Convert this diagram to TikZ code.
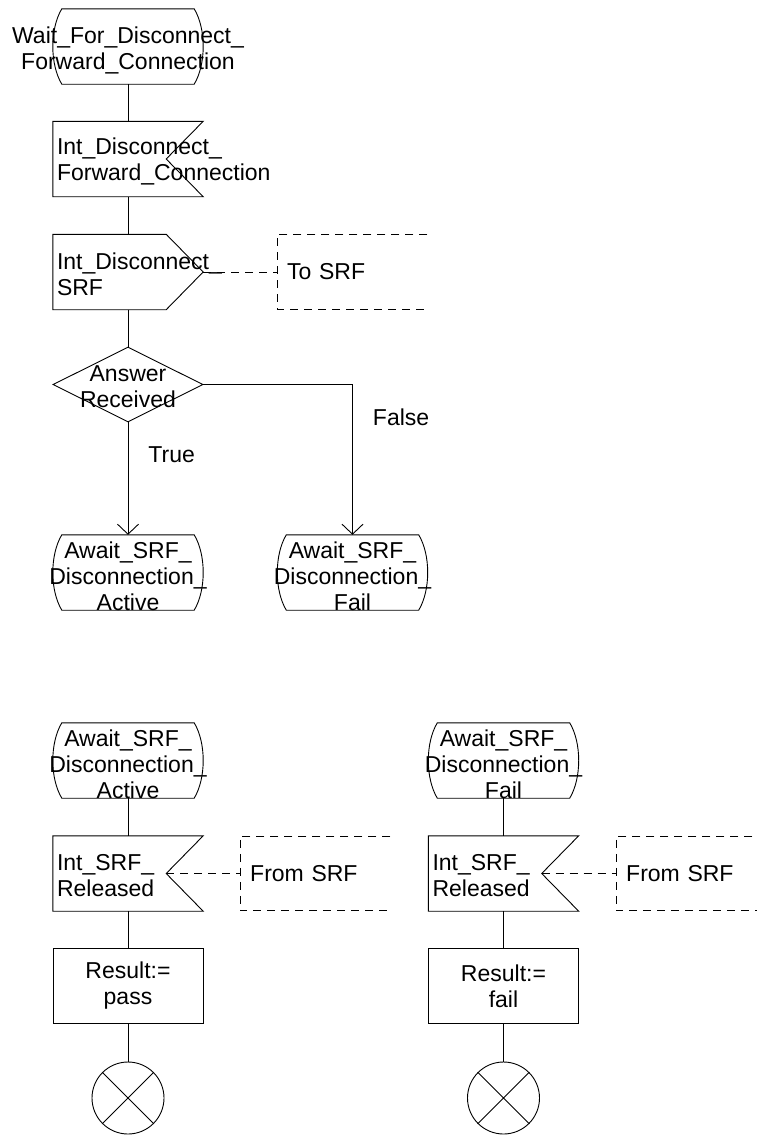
\documentclass[tikz,border=0pt]{standalone}
\usepackage{fontspec}
\setmainfont{Liberation Sans}
\usetikzlibrary{positioning, calc, arrows.meta, shapes.geometric}
\tikzset{
    sdltext/.style={font=\fontsize{23pt}{26pt}\selectfont},
    flow/.style={line width=0.9pt},
    sdlbox/.style={rectangle, minimum width=150pt, minimum height=75pt, inner sep=0pt},
    sdlshape/.style={sdlbox, draw, flow},
    statenode/.style={sdlbox, label={[sdltext, align=center, yshift=-4pt]center:#1},
        append after command={\pgfextra{\draw[flow] ($(\tikzlastnode.north west)+(9,0)$) -- ($(\tikzlastnode.north east)+(-9,0)$)
            .. controls +(12,20) and +(12,-20) .. ($(\tikzlastnode.south east)+(-9,0)$) -- ($(\tikzlastnode.south west)+(9,0)$)
            .. controls +(-12,-20) and +(-12,20) .. ($(\tikzlastnode.north west)+(9,0)$) -- cycle;}}},
    decisionnode/.style={sdlshape, diamond,
        label={[sdltext, align=center, yshift=-2pt]center:#1}},
    signaltext/.style={label={[sdltext, align=left, inner sep=0pt, anchor=west, xshift=4pt, yshift=-2pt]left:#1}},
    inputnode/.style={sdlbox, signaltext={#1},
        append after command={\pgfextra{\draw[flow] (\tikzlastnode.north west) -- (\tikzlastnode.north east)
            -- ($(\tikzlastnode.east)+(-37,0)$) -- (\tikzlastnode.south east) -- (\tikzlastnode.south west) -- cycle;}}},
    outputnode/.style={sdlbox, signaltext={#1},
        append after command={\pgfextra{\draw[flow] (\tikzlastnode.north west) -- ($(\tikzlastnode.north east)+(-37,0)$)
            -- (\tikzlastnode.east) -- ($(\tikzlastnode.south east)+(-37,0)$) -- (\tikzlastnode.south west) -- cycle;}}},
    tasknode/.style={sdlshape, sdltext, align=center},
    stopnode/.style={draw, flow, circle, minimum size=72pt, inner sep=0pt},
    notenode/.style={sdltext, anchor=west, minimum height=74pt, text width=130pt, inner xsep=10pt, inner ysep=0pt, align=left},
    flowarrow/.style={flow, -{Straight Barb[length=10pt, width=21pt]}},
    notelink/.style={line width=0.9pt, dash pattern=on 8pt off 6pt},
    branchlabel/.style={sdltext, inner sep=0pt},
}

\begin{document}
\begin{tikzpicture}[x=1pt, y=-1pt]
    \useasboundingbox (0,0) rectangle (756,1135);

    % Upper chart: disconnect forward connection
    \node[statenode={Wait\_For\_Disconnect\_\\Forward\_Connection}] (wait) at (128,46.5) {};
    \node[inputnode={Int\_Disconnect\_\\Forward\_Connection}] (idfc) at (128,159) {};
    \node[outputnode={Int\_Disconnect\_\\SRF}] (idsrf) at (128,272) {};
    \node[notenode] (tosrf) at (277,272) {To SRF};
    \node[decisionnode={Answer\\Received}] (answer) at (128,384.5) {};
    \node[statenode={Await\_SRF\_\\Disconnection\_\\Active}] (active) at (128,572.5) {};
    \node[statenode={Await\_SRF\_\\Disconnection\_\\Fail}] (fail) at (352.5,572.5) {};

    \draw[flow] (wait) -- (idfc);
    \draw[flow] (idfc) -- (idsrf);
    \draw[flow] (idsrf) -- (answer);
    \draw[notelink] (idsrf.east) -- (tosrf.west);
    \draw[notelink] (tosrf.north east) -- (tosrf.north west) -- (tosrf.south west) -- (tosrf.south east);
    \draw[flowarrow] (answer.south) -- node[branchlabel, pos=0.29, right=20pt] (ltrue) {True} (active.north);
    \draw[flowarrow] (answer.east) -| node[branchlabel, pos=0.61, right=20pt] (lfalse) {False} (fail.north);

    % Lower left chart: result pass
    \node[statenode={Await\_SRF\_\\Disconnection\_\\Active}] (active2) at (128,760.5) {};
    \node[inputnode={Int\_SRF\_\\Released}] (relpass) at (128,873.5) {};
    \node[notenode] (frompass) at (240,873.5) {From SRF};
    \node[tasknode] (pass) at (128,986) {Result:=\\pass};
    \node[stopnode] (stoppass) at (128,1098) {};

    \draw[flow] (active2) -- (relpass);
    \draw[flow] (relpass) -- (pass);
    \draw[flow] (pass) -- (stoppass);
    \draw[notelink] ($(relpass.east)+(-37,0)$) -- (frompass.west);
    \draw[notelink] (frompass.north east) -- (frompass.north west) -- (frompass.south west) -- (frompass.south east);
    \draw[flow] (stoppass.north west) -- (stoppass.south east) (stoppass.north east) -- (stoppass.south west);

    % Lower right chart: result fail
    \node[statenode={Await\_SRF\_\\Disconnection\_\\Fail}] (fail2) at (503.5,760.5) {};
    \node[inputnode={Int\_SRF\_\\Released}] (relfail) at (503.5,873.5) {};
    \node[notenode] (fromfail) at (616,873.5) {From SRF};
    \node[tasknode] (failres) at (503.5,986) {Result:=\\fail};
    \node[stopnode] (stopfail) at (503.5,1098) {};

    \draw[flow] (fail2) -- (relfail);
    \draw[flow] (relfail) -- (failres);
    \draw[flow] (failres) -- (stopfail);
    \draw[notelink] ($(relfail.east)+(-37,0)$) -- (fromfail.west);
    \draw[notelink] (fromfail.north east) -- (fromfail.north west) -- (fromfail.south west) -- (fromfail.south east);
    \draw[flow] (stopfail.north west) -- (stopfail.south east) (stopfail.north east) -- (stopfail.south west);
\end{tikzpicture}
\end{document}
